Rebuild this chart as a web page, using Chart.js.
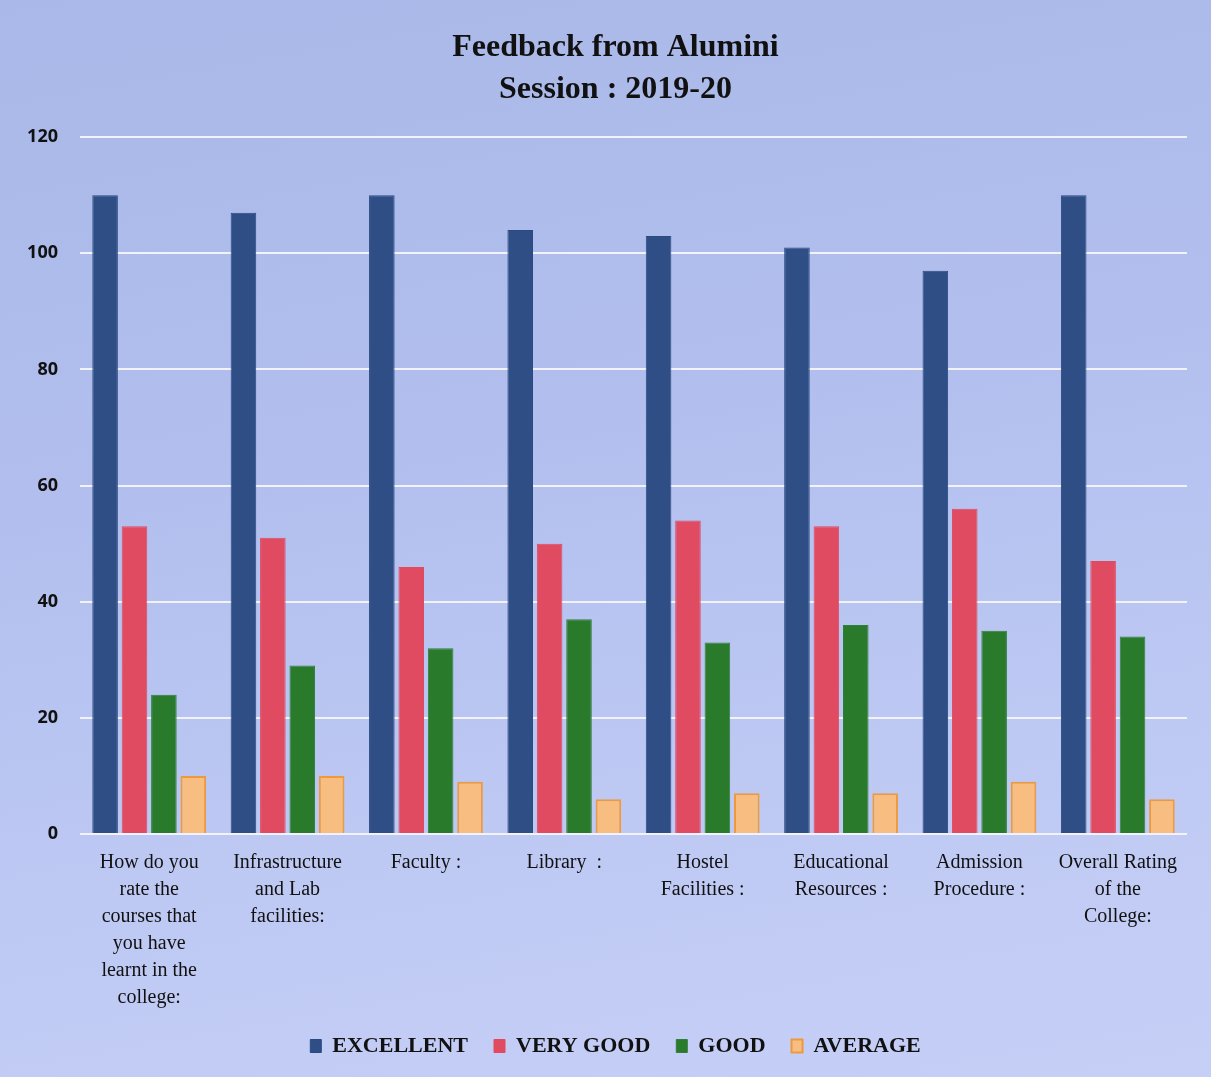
<!DOCTYPE html>
<html>
<head>
<meta charset="utf-8">
<script src="https://cdn.jsdelivr.net/npm/chart.js@4/dist/chart.umd.min.js"></script>
<style>
html,body{margin:0;padding:0;}
#wrap{width:1211px;height:1077px;position:relative;
background:linear-gradient(170deg,#a9b8e8 0%,#b2bfee 40%,#bfcaf4 75%,#c6cff6 100%);}
</style>
</head>
<body>
<div id="wrap"><canvas id="c" width="1211" height="1077"></canvas></div>
<script>
const categories = [
  ["How do you","rate the","courses that","you have","learnt in the","college:"],
  ["Infrastructure","and Lab","facilities:"],
  ["Faculty :"],
  ["Library  :"],
  ["Hostel","Facilities :"],
  ["Educational","Resources :"],
  ["Admission","Procedure :"],
  ["Overall Rating","of the","College:"]
];
const excellent = [110, 107, 110, 104, 103, 101, 97, 110];
const veryGood  = [53, 51, 46, 50, 54, 53, 56, 47];
const good      = [24, 29, 32, 37, 33, 36, 35, 34];
const average   = [10, 10, 9, 6, 7, 7, 9, 6];
const titleLines = ["Feedback from Alumini","Session : 2019-20"];

new Chart(document.getElementById('c'), {
  type: 'bar',
  data: {
    labels: categories,
    datasets: [
      {label:'EXCELLENT', data:excellent, backgroundColor:'#2e4e85', borderColor:'#2a4a80', borderWidth:1},
      {label:'VERY GOOD', data:veryGood, backgroundColor:'#e14b61', borderColor:'#e04a60', borderWidth:1},
      {label:'GOOD', data:good, backgroundColor:'#2a7a2c', borderColor:'#2f7f3a', borderWidth:1},
      {label:'AVERAGE', data:average, backgroundColor:'#f8bd80', borderColor:'#ee9a3c', borderWidth:2}
    ]
  },
  options: {
    responsive:false,
    animation:false,
    devicePixelRatio:1,
    layout:{padding:{left:20,right:0,top:27,bottom:10}},
    datasets:{bar:{categoryPercentage:0.85,barPercentage:0.87}},
    plugins:{
      title:{display:true,text:titleLines,color:'#111',
        font:{family:'Liberation Serif',size:32,weight:'bold',lineHeight:1.3},
        padding:{top:0,bottom:27}},
      legend:{position:'bottom',
        labels:{color:'#111',font:{family:'Liberation Serif',size:22,weight:'bold'},
          boxWidth:11,boxHeight:13,padding:26,useBorderRadius:false},
        },
      tooltip:{enabled:false}
    },
    scales:{
      x:{
        grid:{display:false},
        border:{display:false},
        ticks:{color:'#111',font:{family:'Liberation Serif',size:20,lineHeight:1.35},
          maxRotation:0,minRotation:0,autoSkip:false,padding:7},
        afterFit:(a)=>{a.height-=9;}
      },
      y:{
        min:0,max:120,
        grid:{color:'#f2f2fa',lineWidth:2,drawTicks:false},
        border:{display:false},
        ticks:{stepSize:20,color:'#111',font:{family:'Open Sans',size:18,weight:'bold'},padding:22},
        afterFit:(a)=>{a.width=60;}
      },
      y2:{
        position:'right',
        min:0,max:120,
        grid:{display:false,drawOnChartArea:false},
        border:{display:false},
        ticks:{display:false},
        afterFit:(a)=>{a.width=24;}
      }
    }
  }
});
</script>
</body>
</html>
